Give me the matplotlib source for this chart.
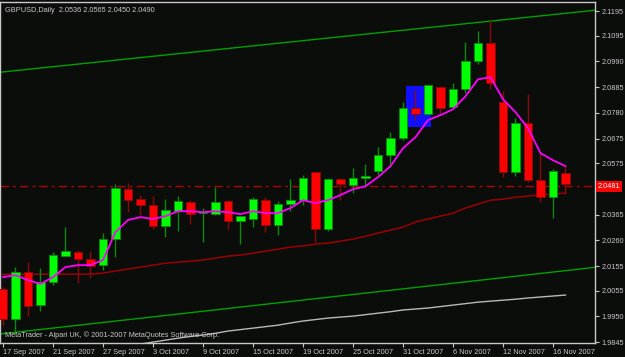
import numpy as np
import matplotlib

matplotlib.use("Agg")
import matplotlib.pyplot as plt
from matplotlib.patches import Rectangle

# ======================================================
# Data
# ======================================================
tick_dates = ["17 Sep 2007", "21 Sep 2007", "27 Sep 2007", "3 Oct 2007", "9 Oct 2007",
              "15 Oct 2007", "19 Oct 2007", "25 Oct 2007", "31 Oct 2007", "6 Nov 2007",
              "12 Nov 2007", "16 Nov 2007"]
tick_bars = [0, 4, 8, 12, 16, 20, 24, 28, 32, 36, 40, 44]

opens = [2.0061, 1.9939, 2.0131, 1.9996, 2.0090, 2.0196, 2.0212, 2.0184, 2.0159, 2.0265,
         2.0469, 2.0428, 2.0404, 2.0318, 2.0379, 2.0416, 2.0371, 2.0367, 2.0420, 2.0339,
         2.0347, 2.0424, 2.0322, 2.0408, 2.0424, 2.0538, 2.0306, 2.0510, 2.0485, 2.0514,
         2.0543, 2.0608, 2.0677, 2.0799, 2.0775, 2.0885, 2.0804, 2.0877, 2.0991, 2.1065,
         2.0824, 2.0538, 2.0738, 2.0506, 2.0436, 2.0536]
highs = [2.0069, 2.0151, 2.0171, 2.0147, 2.0212, 2.0314, 2.0220, 2.0216, 2.0290, 2.0489,
         2.0494, 2.0445, 2.0441, 2.0428, 2.0441, 2.0424, 2.0392, 2.0477, 2.0424, 2.0361,
         2.0436, 2.0436, 2.0420, 2.0510, 2.0526, 2.0540, 2.0514, 2.0514, 2.0555, 2.0571,
         2.0640, 2.0702, 2.0824, 2.0873, 2.0893, 2.0889, 2.0901, 2.1069, 2.1113, 2.1158,
         2.0869, 2.0759, 2.0857, 2.0616, 2.0551, 2.0565]
lows = [1.9914, 1.9882, 1.9951, 1.9972, 2.0078, 2.0196, 2.0086, 2.0106, 2.0139, 2.0192,
        2.0375, 2.0363, 2.0306, 2.0273, 2.0298, 2.0326, 2.0253, 2.0363, 2.0306, 2.0245,
        2.0314, 2.0294, 2.0282, 2.0379, 2.0404, 2.0253, 2.0298, 2.0424, 2.0453, 2.0477,
        2.0526, 2.0559, 2.0669, 2.0751, 2.0775, 2.0775, 2.0799, 2.0861, 2.0979, 2.0877,
        2.0518, 2.0522, 2.0498, 2.0416, 2.0351, 2.0450]
closes = [1.9939, 2.0131, 1.9992, 2.0090, 2.0200, 2.0216, 2.0184, 2.0155, 2.0265, 2.0473,
          2.0424, 2.0404, 2.0318, 2.0383, 2.0420, 2.0367, 2.0375, 2.0416, 2.0339, 2.0359,
          2.0428, 2.0322, 2.0408, 2.0424, 2.0514, 2.0306, 2.0510, 2.0490, 2.0514, 2.0522,
          2.0608, 2.0677, 2.0799, 2.0775, 2.0893, 2.0799, 2.0877, 2.0991, 2.1065, 2.0901,
          2.0538, 2.0738, 2.0506, 2.0436, 2.0543, 2.0490]

# fast moving average (magenta)
ma_fast = [2.0110, 2.0118, 2.0098, 2.0082, 2.0110, 2.0151, 2.0159, 2.0159, 2.0180, 2.0294,
           2.0343, 2.0355, 2.0347, 2.0359, 2.0379, 2.0379, 2.0375, 2.0379, 2.0375, 2.0367,
           2.0379, 2.0371, 2.0371, 2.0392, 2.0424, 2.0412, 2.0424, 2.0445, 2.0469, 2.0481,
           2.0518, 2.0563, 2.0636, 2.0681, 2.0751, 2.0771, 2.0795, 2.0848, 2.0917, 2.0926,
           2.0836, 2.0783, 2.0718, 2.0616, 2.0587, 2.0563]
# medium moving average (dark red)
ma_mid = [2.0122, 2.0122, 2.0122, 2.0122, 2.0122, 2.0122, 2.0122, 2.0122, 2.0127, 2.0135,
          2.0143, 2.0151, 2.0159, 2.0167, 2.0171, 2.0175, 2.0180, 2.0188, 2.0196, 2.0200,
          2.0208, 2.0216, 2.0224, 2.0233, 2.0237, 2.0245, 2.0249, 2.0257, 2.0265, 2.0277,
          2.0290, 2.0302, 2.0314, 2.0335, 2.0347, 2.0359, 2.0371, 2.0392, 2.0408, 2.0424,
          2.0428, 2.0436, 2.0441, 2.0445, 2.0449, 2.0453]
# slow moving average (grey), below the chart before mid-October
ma_slow = [None] * 10 + [
    1.9829, 1.9837, 1.9845, 1.9853, 1.9861, 1.9868, 1.9874, 1.9881, 1.9890, 1.9896,
    1.9902, 1.9908, 1.9914, 1.9923, 1.9931, 1.9937, 1.9943, 1.9947, 1.9951, 1.9957,
    1.9963, 1.9969, 1.9976, 1.9980, 1.9984, 1.9990, 1.9996, 2.0002, 2.0008, 2.0012,
    2.0016, 2.0020, 2.0025, 2.0029, 2.0033, 2.0037]

# channel trend lines: (bar, price) end points
upper_channel = [(-0.24, 2.0946), (47.36, 2.1199)]
lower_channel = [(-0.24, 1.9878), (47.36, 2.0150)]

# drawn rectangle (bar from, bar to, price low, price high)
box = (32.2, 34.2, 2.0722, 2.0889)

bid = 2.0481
title = "GBPUSD,Daily  2.0536 2.0565 2.0450 2.0490"
y_ticks = [2.1195, 2.1095, 2.0990, 2.0885, 2.0780, 2.0675, 2.0575,
           2.0365, 2.0260, 2.0155, 2.0055, 1.9950, 1.9845]

# ======================================================
# Plot
# ======================================================
BG = "#0b0d0b"
FG = "#c8c8c8"
UP, DOWN = "#00ff00", "#ff0000"
UP_W, DOWN_W = "#0a8a0a", "#8a0a0a"
FS = 5.3
plt.rcParams["font.family"] = ["Liberation Sans", "DejaVu Sans"]

fig = plt.figure(figsize=(6.25, 3.57), dpi=100, facecolor=BG)
ax = fig.add_axes([0.0, 0.039, 0.952, 0.955], facecolor=BG)

x = np.arange(len(opens))
o, h, l, c = map(np.array, (opens, highs, lows, closes))
up = c >= o

# trend lines and averages
ax.plot(*zip(*upper_channel), color="#00a000", lw=1)
ax.plot(*zip(*lower_channel), color="#00a000", lw=1)
slow = np.array([np.nan if v is None else v for v in ma_slow])
ax.plot(x, slow, color="#b8b8b8", lw=1)
ax.plot(x, ma_mid, color="#9a0000", lw=1.1)

ax.add_patch(Rectangle((box[0], box[2]), box[1] - box[0], box[3] - box[2],
                       facecolor="#1010ff", edgecolor="none", zorder=2))

ax.axhline(bid, color="#b00000", lw=1, ls=(0, (6, 3, 2, 3)), zorder=2)

# candles
ax.vlines(x[up], l[up], h[up], color=UP_W, lw=1, zorder=3)
ax.vlines(x[~up], l[~up], h[~up], color=DOWN_W, lw=1, zorder=3)
body_lo = np.minimum(o, c)
body_h = np.maximum(np.abs(c - o), 0.0003)
ax.bar(x[up], body_h[up], 0.68, bottom=body_lo[up], color=UP,
       edgecolor=UP_W, lw=0.6, zorder=4)
ax.bar(x[~up], body_h[~up], 0.68, bottom=body_lo[~up], color=DOWN,
       edgecolor=DOWN_W, lw=0.6, zorder=4)

ax.plot(x, ma_fast, color="#ff00ff", lw=1.3, zorder=5)

ax.set_xlim(-0.24, 47.36)
ax.set_ylim(1.9841, 2.1232)

# axes styling
for s in ax.spines.values():
    s.set_color(FG)
    s.set_linewidth(1)
ax.yaxis.tick_right()
ax.set_yticks(y_ticks)
ax.set_yticklabels([f"{v:.4f}" for v in y_ticks])
ax.set_xticks(tick_bars)
ax.set_xticklabels(tick_dates, ha="left")
ax.tick_params(axis="both", colors=FG, labelsize=FS, length=3, width=0.8, pad=1.5)
ax.tick_params(axis="x", pad=1)

# bid label on the price scale
ax.text(1.004, bid, f"{bid:.4f}", transform=ax.get_yaxis_transform(),
        color="white", fontsize=FS, va="center", ha="left",
        bbox=dict(boxstyle="square,pad=0.25", facecolor="#ff0000", edgecolor="none"))

ax.text(0.008, 0.985, title, transform=ax.transAxes, color=FG, fontsize=FS,
        va="top", ha="left")
ax.text(0.008, 0.012, "MetaTrader - Alpari UK, \u00a9 2001-2007 MetaQuotes Software Corp.",
        transform=ax.transAxes, color=FG, fontsize=FS, va="bottom", ha="left")

fig.savefig("out.png", dpi=100, facecolor=BG)
